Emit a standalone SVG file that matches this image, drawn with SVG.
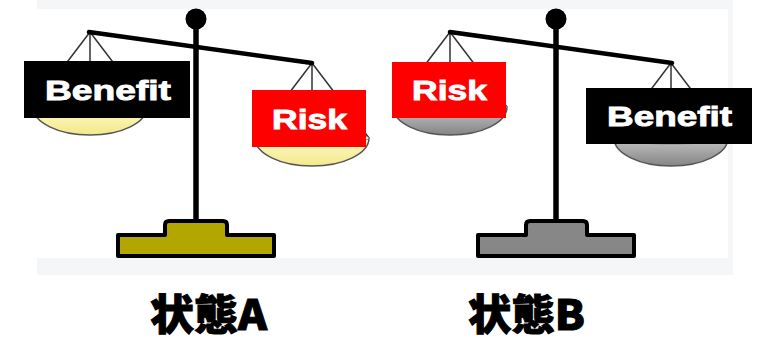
<svg xmlns="http://www.w3.org/2000/svg" width="757" height="339" viewBox="0 0 757 339">
  <defs>
    <linearGradient id="panYellow" x1="0" y1="0" x2="0" y2="1">
      <stop offset="0" stop-color="#fdf9c8"/>
      <stop offset="1" stop-color="#f3e98a"/>
    </linearGradient>
    <linearGradient id="panGray" x1="0" y1="0" x2="0" y2="1">
      <stop offset="0" stop-color="#c4c4c4"/>
      <stop offset="1" stop-color="#858585"/>
    </linearGradient>
    <!-- one pan: strings fanning from the hook, and a shallow bowl; the bowl takes the fill of the <use> -->
    <g id="pan">
      <path d="M0,0 L-57,75 M0,0 L0,75 M0,0 L57,75" fill="none" stroke="#333" stroke-width="1.5"/>
      <path d="M-57,75 A57,28 0 0 0 57,75 Z" stroke="#555" stroke-width="1.5"/>
      <ellipse cx="0" cy="75" rx="57" ry="6" stroke="#777" stroke-width="0.8"/>
    </g>
  </defs>
  <style>
    .beam { stroke: #000; stroke-width: 4.5; stroke-linecap: round; }
    .pole { stroke: #000; stroke-width: 5.5; }
    .base { stroke: #000; stroke-width: 4; stroke-linejoin: round; }
    .tag-text { font-family: "Liberation Sans", Arial, sans-serif; font-weight: bold; font-size: 28px; fill: #fff; stroke: #fff; stroke-width: 0.9; text-anchor: middle; }
    .caption { font-family: "Noto Sans CJK JP", "Liberation Sans", sans-serif; font-weight: 900; font-size: 42px; fill: #000; stroke: #000; stroke-width: 1; text-anchor: middle; }
  </style>

  <!-- backdrop panel -->
  <rect x="37" y="0" width="696" height="275" fill="#f4f6f8"/>
  <rect x="37" y="9" width="691" height="249" fill="#ffffff"/>

  <!-- balance A: benefit side raised -->
  <g id="scale-a">
    <use href="#pan" x="90" y="32" fill="url(#panYellow)"/>
    <use href="#pan" x="312" y="63" fill="url(#panYellow)"/>
    <line x1="196" y1="19" x2="196" y2="224" class="pole"/>
    <line x1="89" y1="32" x2="312" y2="63" class="beam"/>
    <circle cx="196" cy="19" r="10.5" fill="#000"/>
    <path d="M118,256 V235 H165 V225 Q165 221 169 221 H223 Q227 221 227 225 V235 H274 V256 Z" class="base" fill="#b3a600"/>
  </g>

  <!-- balance B: risk side raised -->
  <g id="scale-b">
    <use href="#pan" x="450" y="32" fill="url(#panGray)"/>
    <use href="#pan" x="671" y="63" fill="url(#panGray)"/>
    <line x1="556" y1="19" x2="556" y2="224" class="pole"/>
    <line x1="450" y1="32" x2="672" y2="63" class="beam"/>
    <circle cx="556" cy="19" r="10.5" fill="#000"/>
    <path d="M478,256 V235 H526 V225 Q526 221 530 221 H583 Q587 221 587 225 V235 H634 V256 Z" class="base" fill="#878787"/>
  </g>

  <!-- tags on the pans -->
  <g id="tag-a-benefit">
    <rect x="24" y="61" width="166" height="57" fill="#000"/>
    <text x="108" y="100" class="tag-text" textLength="126" lengthAdjust="spacingAndGlyphs">Benefit</text>
  </g>
  <g id="tag-a-risk">
    <rect x="252" y="90" width="114" height="57" fill="#fe0000"/>
    <text x="309.5" y="128.5" class="tag-text" textLength="75" lengthAdjust="spacingAndGlyphs">Risk</text>
  </g>
  <g id="tag-b-risk">
    <rect x="392" y="62" width="114" height="56" fill="#fe0000"/>
    <text x="449.5" y="100" class="tag-text" textLength="75" lengthAdjust="spacingAndGlyphs">Risk</text>
  </g>
  <g id="tag-b-benefit">
    <rect x="586" y="88" width="166" height="56" fill="#000"/>
    <text x="669.5" y="126" class="tag-text" textLength="125" lengthAdjust="spacingAndGlyphs">Benefit</text>
  </g>

  <!-- captions -->
  <g id="caption-a">
    <text x="208.5" y="330" class="caption" textLength="117" lengthAdjust="spacingAndGlyphs">状態A</text>
  </g>
  <g id="caption-b">
    <text x="526.5" y="330" class="caption" textLength="117" lengthAdjust="spacingAndGlyphs">状態B</text>
  </g>
</svg>
